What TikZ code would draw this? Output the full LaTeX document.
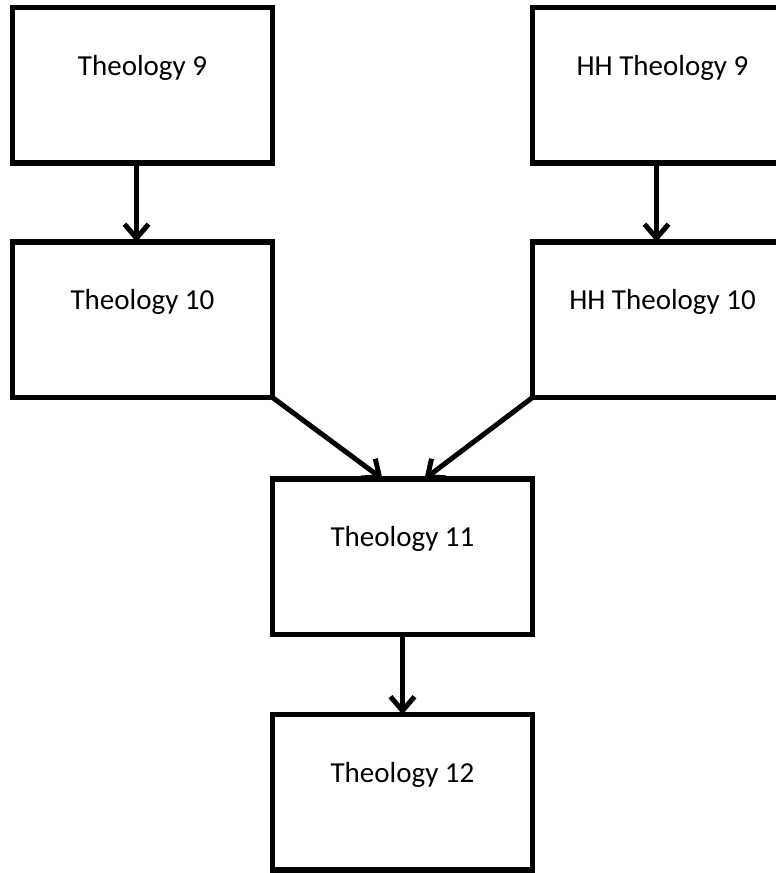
\documentclass[tikz,border=0pt]{standalone}
\usepackage{fontspec}
\setmainfont{Carlito}
\usepackage{tikz}
\usetikzlibrary{arrows.meta,positioning,calc}

\begin{document}
\begin{tikzpicture}[x=0.5pt, y=-0.5pt,
  course/.style={rectangle, draw=black, line width=2.7pt, inner sep=0pt, outer sep=0pt,
        minimum width=130pt, text height=33.75pt, text depth=44pt,
        font=\fontsize{14.5pt}{17pt}\selectfont},
  link/.style={line width=2.5pt, -{Straight Barb[length=7pt,width=12pt]}}]
  \useasboundingbox (0,0) rectangle (776,873);

  % grade 9 and 10
  \node[course, anchor=north] (t9) at (142.5,7.5) {Theology 9};
  \node[course, anchor=north] (hh9) at (662.5,7.5) {HH Theology 9};
  \node[course, below=39.5pt of t9] (t10) {Theology 10};
  \node[course, below=39.5pt of hh9] (hh10) {HH Theology 10};

  % grade 11 and 12
  \node[course, anchor=north] (t11) at (402.5,479) {Theology 11};
  \node[course, below=40pt of t11] (t12) {Theology 12};

  \draw[link] ([xshift=-3pt]t9.south) -- ([xshift=-3pt]t10.north);
  \draw[link] ([xshift=-3pt]hh9.south) -- ([xshift=-3pt]hh10.north);
  \draw[link] (t10.south east) -- ([xshift=-10pt]t11.north);
  \draw[link] (hh10.south west) -- ([xshift=11pt]t11.north);
  \draw[link] (t11.south) -- (t12.north);
\end{tikzpicture}
\end{document}
